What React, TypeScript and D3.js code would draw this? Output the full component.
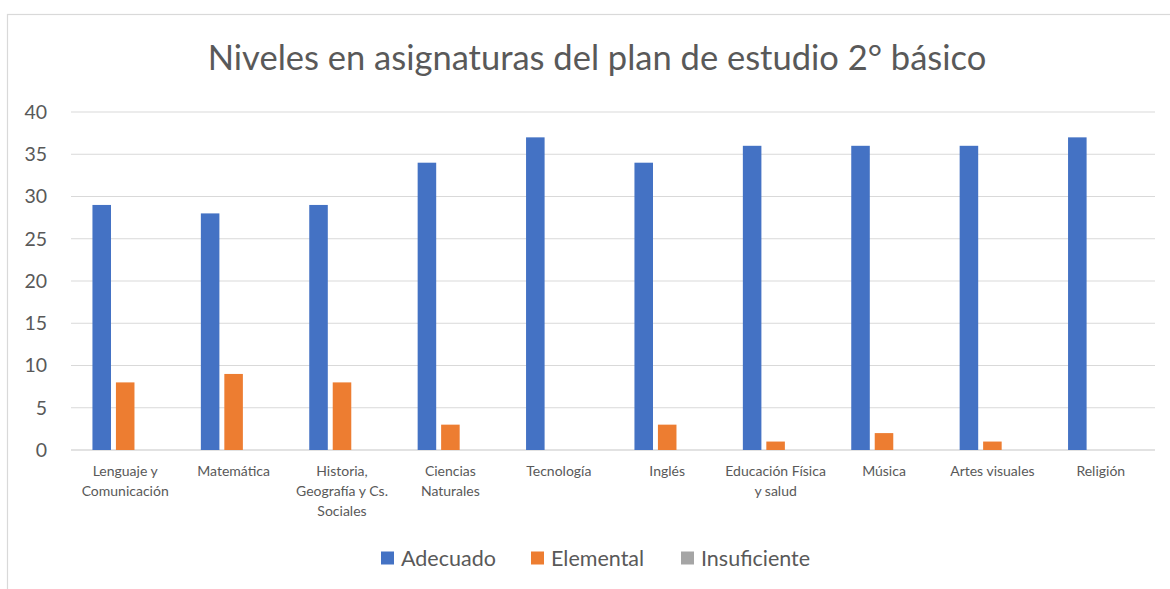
import { useMemo } from "react";
import * as d3 from "d3";

const WIDTH = 1170;
const HEIGHT = 589;
const MARGIN = { top: 112, right: 15, bottom: 139, left: 71 };
const FONT = "Lato, 'Open Sans', sans-serif";
const TEXT_COLOR = "#595959";
const GRID_COLOR = "#d9d9d9";

const TITLE = "Niveles en asignaturas del plan de estudio 2° básico";

const categories = [
  "Lenguaje y Comunicación",
  "Matemática",
  "Historia, Geografía y Cs. Sociales",
  "Ciencias Naturales",
  "Tecnología",
  "Inglés",
  "Educación Física y salud",
  "Música",
  "Artes visuales",
  "Religión",
];

const seriesNames = ["Adecuado", "Elemental", "Insuficiente"];
const seriesColors = ["#4472C4", "#ED7D31", "#A5A5A5"];

const adecuado = [29, 28, 29, 34, 37, 34, 36, 36, 36, 37];
const elemental = [8, 9, 8, 3, 0, 3, 1, 2, 1, 0];
const insuficiente = [0, 0, 0, 0, 0, 0, 0, 0, 0, 0];

const yTicks = [0, 5, 10, 15, 20, 25, 30, 35, 40];

// word wrap using canvas measurement
const wrapLabel = (label: string, maxWidth: number, font: string) => {
  const canvas = document.createElement("canvas");
  const ctx = canvas.getContext("2d");
  if (!ctx) return [label];
  ctx.font = font;
  const words = label.split(" ");
  const lines: string[] = [];
  let line = "";
  words.forEach((w) => {
    const test = line ? line + " " + w : w;
    if (ctx.measureText(test).width > maxWidth && line) {
      lines.push(line);
      line = w;
    } else {
      line = test;
    }
  });
  if (line) lines.push(line);
  return lines;
};

export default function App() {
  const boundsWidth = WIDTH - MARGIN.left - MARGIN.right;
  const boundsHeight = HEIGHT - MARGIN.top - MARGIN.bottom;

  const values = [adecuado, elemental, insuficiente];

  const xScale = useMemo(
    () => d3.scaleBand<string>().domain(categories).range([0, boundsWidth]).paddingInner(0).paddingOuter(0),
    [boundsWidth]
  );
  const groupWidth = 65.5;
  const xInner = useMemo(
    () =>
      d3
        .scaleBand<string>()
        .domain(seriesNames)
        .range([0, groupWidth])
        .paddingInner(0.21),
    []
  );
  const yScale = useMemo(
    () => d3.scaleLinear().domain([0, 40]).range([boundsHeight, 0]),
    [boundsHeight]
  );

  const labelLines = useMemo(
    () => categories.map((c) => wrapLabel(c, 107, `14px ${FONT}`)),
    []
  );

  return (
    <div style={{ position: "absolute", left: 0, top: 0 }}>
      <svg width={WIDTH} height={HEIGHT} style={{ display: "block", background: "#fff" }}>
        {/* chart border */}
        <rect x={7.5} y={14.5} width={WIDTH + 10} height={HEIGHT + 10} fill="none" stroke={GRID_COLOR} strokeWidth={1.2} />
        <text
          x={597}
          y={70}
          textAnchor="middle"
          fontFamily={FONT}
          fontSize={34.5}
          fill={TEXT_COLOR}
        >
          {TITLE}
        </text>
        <g transform={`translate(${MARGIN.left},${MARGIN.top})`}>
          {yTicks.map((t) => (
            <g key={t}>
              <line
                x1={0}
                x2={boundsWidth}
                y1={yScale(t)}
                y2={yScale(t)}
                stroke={GRID_COLOR}
                strokeWidth={t === 0 ? 1.5 : 1.2}
              />
              <text
                x={-24}
                y={yScale(t)}
                dy="0.35em"
                textAnchor="end"
                fontFamily={FONT}
                fontSize={19.5}
                fill={TEXT_COLOR}
              >
                {t}
              </text>
            </g>
          ))}
          {categories.map((c, i) => {
            const gx = (xScale(c) ?? 0) + xScale.bandwidth() / 2 - groupWidth / 2;
            return (
              <g key={c} transform={`translate(${gx},0)`}>
                {seriesNames.map((s, j) => {
                  const v = values[j][i];
                  if (v <= 0) return null;
                  return (
                    <rect
                      key={s}
                      x={xInner(s)}
                      width={xInner.bandwidth()}
                      y={yScale(v)}
                      height={boundsHeight - yScale(v)}
                      fill={seriesColors[j]}
                    />
                  );
                })}
              </g>
            );
          })}
          {categories.map((c, i) => {
            const cx = (xScale(c) ?? 0) + xScale.bandwidth() / 2;
            return (
              <text
                key={c}
                x={cx}
                y={boundsHeight + 26}
                textAnchor="middle"
                fontFamily={FONT}
                fontSize={14}
                fill={TEXT_COLOR}
              >
                {labelLines[i].map((l, k) => (
                  <tspan key={k} x={cx} dy={k === 0 ? 0 : 20}>
                    {l}
                  </tspan>
                ))}
              </text>
            );
          })}
        </g>
        <g transform={`translate(381,558)`}>
          {seriesNames.map((s, j) => (
            <g key={s} transform={`translate(${j * 150},0)`}>
              <rect x={0} y={-6.5} width={13} height={13} fill={seriesColors[j]} />
              <text x={20} y={0} dy="0.35em" fontFamily={FONT} fontSize={21.5} fill={TEXT_COLOR}>
                {s}
              </text>
            </g>
          ))}
        </g>
      </svg>
    </div>
  );
}
